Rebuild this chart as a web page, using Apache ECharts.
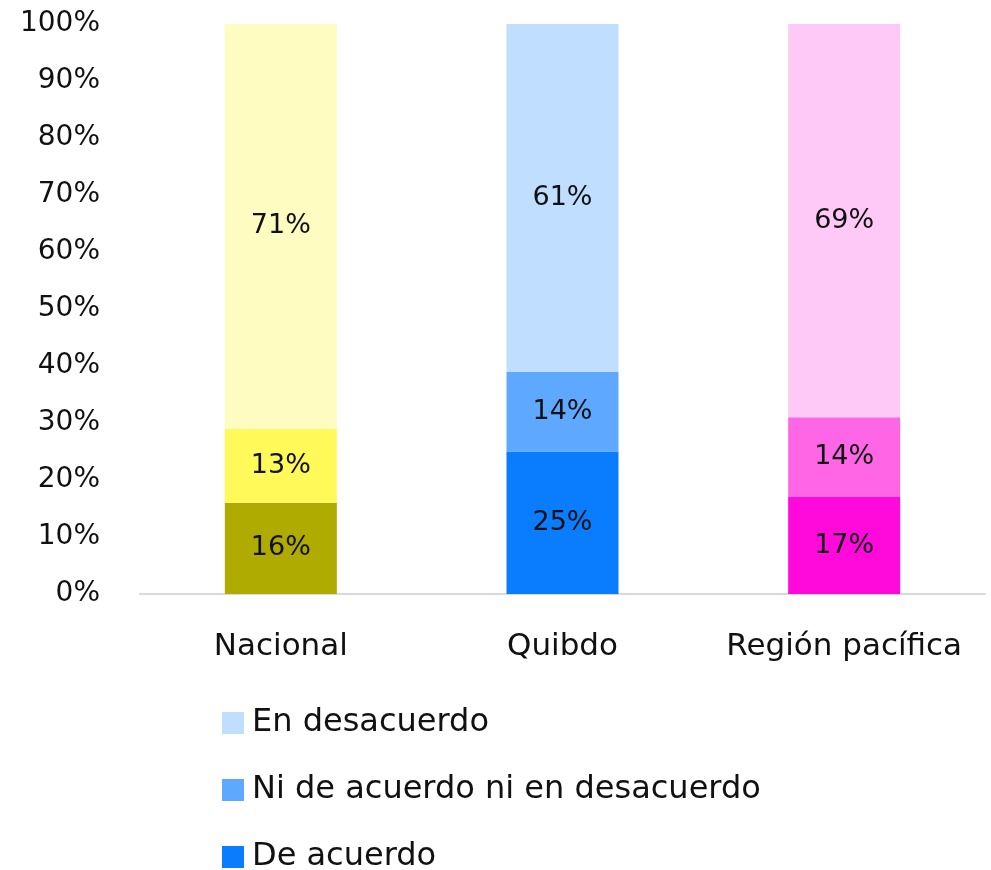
<!DOCTYPE html>
<html>
<head>
<meta charset="utf-8">
<script src="https://cdn.jsdelivr.net/npm/echarts@6/dist/echarts.min.js"></script>
<style>
  html, body { margin: 0; padding: 0; background: #fff; }
  #chart { width: 991px; height: 870px; }
</style>
</head>
<body>
<div id="chart"></div>
<script>
// Categories and stacked shares (percent)
const categories = ['Nacional', 'Quibdo', 'Región pacífica'];
const deAcuerdo = [16, 25, 17];
const niNi = [13, 14, 14];
const enDesacuerdo = [71, 61, 69];
const yTicks = [0, 10, 20, 30, 40, 50, 60, 70, 80, 90, 100];

// Palette per category: [de acuerdo, ni/ni, en desacuerdo]
const palette = [
  ['#B0AB00', '#FFFA5A', '#FFFCC2'],
  ['#0A7DFF', '#5FA8FF', '#C0DEFF'],
  ['#FF0ADB', '#FF66E6', '#FFC9F7']
];

const FONT = '"DejaVu Sans", "Noto Sans", sans-serif';

function makeSeries(name, values, idx) {
  return {
    name: name,
    type: 'bar',
    stack: 'total',
    barWidth: 112,
    itemStyle: { color: palette[1][idx] },
    data: values.map((v, i) => ({ value: v, itemStyle: { color: palette[i][idx] } })),
    label: {
      show: true,
      position: 'inside',
      formatter: p => p.value + '%',
      color: '#111',
      fontSize: 27,
      fontFamily: FONT
    }
  };
}

const chart = echarts.init(document.getElementById('chart'));
chart.setOption({
  animation: false,
  textStyle: { fontFamily: FONT },
  grid: { left: 140, right: 6, top: 24, bottom: 276, containLabel: false },
  xAxis: {
    type: 'category',
    data: categories,
    axisLine: { lineStyle: { color: '#d9d9d9', width: 2 } },
    axisTick: { show: false },
    axisLabel: { interval: 0, color: '#111', fontSize: 31, margin: 37, fontFamily: FONT }
  },
  yAxis: {
    type: 'value',
    min: yTicks[0],
    max: yTicks[yTicks.length - 1],
    interval: 10,
    splitLine: { show: false },
    axisLine: { show: false },
    axisTick: { show: false },
    axisLabel: { color: '#111', fontSize: 28, margin: 40, fontFamily: FONT, formatter: v => v + '%' }
  },
  legend: {
    orient: 'vertical',
    left: 222,
    top: 707,
    height: 200,
    padding: 0,
    itemWidth: 22,
    itemHeight: 22,
    itemGap: 35,
    icon: 'rect',
    data: ['En desacuerdo', 'Ni de acuerdo ni en desacuerdo', 'De acuerdo'],
    textStyle: { color: '#111', fontSize: 32, fontFamily: FONT, padding: [0, 0, 0, 3] }
  },
  series: [
    makeSeries('De acuerdo', deAcuerdo, 0),
    makeSeries('Ni de acuerdo ni en desacuerdo', niNi, 1),
    makeSeries('En desacuerdo', enDesacuerdo, 2)
  ]
});
</script>
</body>
</html>
